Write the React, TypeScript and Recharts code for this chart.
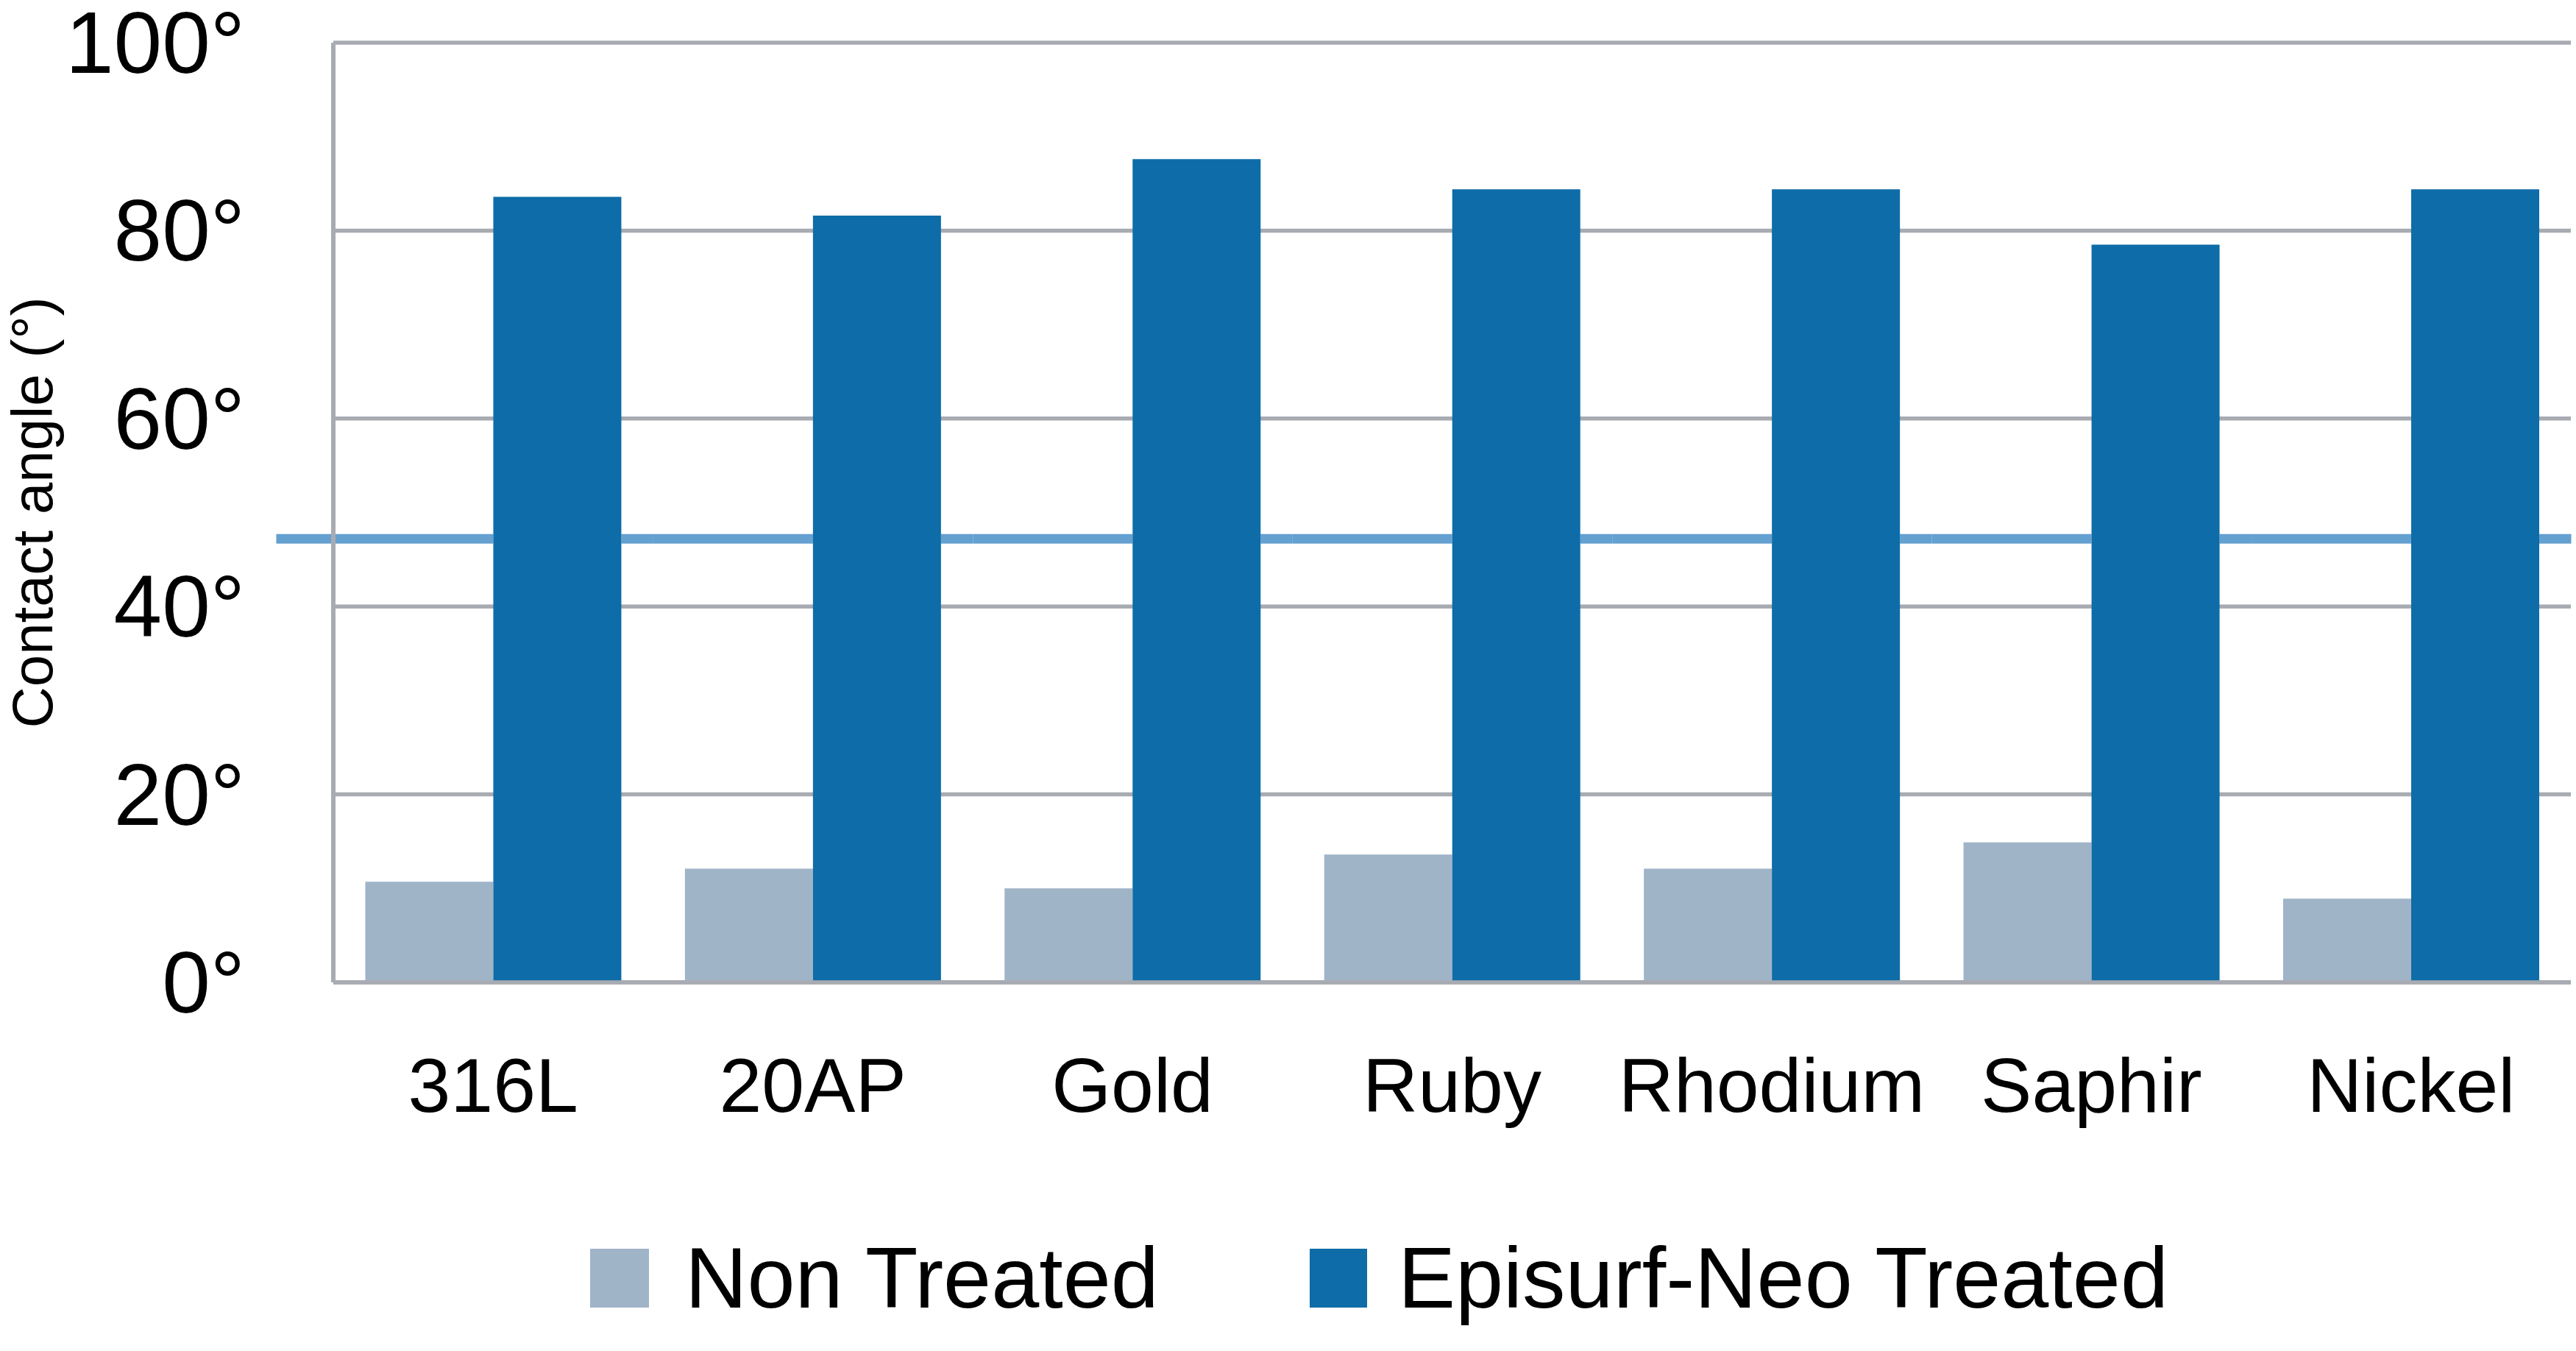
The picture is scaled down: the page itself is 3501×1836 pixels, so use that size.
import { Bar, BarChart, CartesianGrid, Label, Legend, XAxis, YAxis } from "recharts"

// ── Data ──────────────────────────────────────────────────────────
const materials = ["316L", "20AP", "Gold", "Ruby", "Rhodium", "Saphir", "Nickel"]
const nonTreated = [10.7, 12.1, 10.0, 13.6, 12.1, 14.9, 8.9]
const neoTreated = [83.6, 81.6, 87.6, 84.4, 84.4, 78.5, 84.4]
const angleTicks = [0, 20, 40, 60, 80, 100]
const angleDomain = [0, 100]
const thresholdAngle = 47.2

const GREY = "#a0b4c8"
const BLUE = "#0e6ca8"
const LINE = "#64a0d0"
const GRID = "#a8abb2"
const FONT = "'Liberation Sans', Arial, Helvetica, sans-serif"

const W = 3501
const H = 1836

const data = materials.map((name, i) => ({
    name,
    nonTreated: nonTreated[i],
    neoTreated: neoTreated[i],
}))

const YTick = ({ x, y, payload }: any) => (
    <text x={x - 118} y={y} textAnchor="end" dominantBaseline="central"
        fontFamily={FONT} fontSize={118} fill="#000">
        {`${payload.value}°`}
    </text>
)

const XTick = ({ x, y, payload }: any) => (
    <text x={x} y={y + 176} textAnchor="middle"
        fontFamily={FONT} fontSize={104} fill="#000">
        {payload.value}
    </text>
)

const LegendBox = () => (
    <div style={{ position: "relative", width: W, height: 130, fontFamily: FONT, fontSize: 117, color: "#000" }}>
        <div style={{ position: "absolute", left: 802, top: 25, width: 80, height: 80, background: GREY }} />
        <span style={{ position: "absolute", left: 931, top: 0, lineHeight: "130px", whiteSpace: "nowrap" }}>Non Treated</span>
        <div style={{ position: "absolute", left: 1780, top: 25, width: 78, height: 80, background: BLUE }} />
        <span style={{ position: "absolute", left: 1900, top: 0, lineHeight: "130px", whiteSpace: "nowrap" }}>Episurf-Neo Treated</span>
    </div>
)

const AxisLabel = ({ viewBox }: any) => {
    const cx = viewBox.x + 44
    const cy = viewBox.y + viewBox.height / 2
    return (
        <text x={cx} y={cy} transform={`rotate(-90 ${cx} ${cy})`}
            textAnchor="middle" dominantBaseline="central"
            fontFamily={FONT} fontSize={78} fill="#000">
            Contact angle (°)
        </text>
    )
}

// Threshold line, drawn from the grey series' background. It skips the
// blue bar of each category (the blue bars hide it in the original);
// the first piece also runs a little past the y axis.
const ThresholdPiece = (p: any) => {
    const { x, y, width, height, index } = p
    const [lo, hi] = angleDomain
    const ly = y + height * (1 - (thresholdAngle - lo) / (hi - lo))
    const gap = width * 0.247
    const start = x - gap - (index === 0 ? 78 : 0)
    const end = x - gap + width * 2.497
    return (
        <g>
            <line x1={start} y1={ly} x2={x + width} y2={ly} stroke={LINE} strokeWidth={13} />
            <line x1={x + 2 * width} y1={ly} x2={end} y2={ly} stroke={LINE} strokeWidth={13} />
        </g>
    )
}

export default function App() {
    return (
        <div style={{ position: "absolute", left: 0, top: 0, width: W, height: H, background: "#fff" }}>
            <BarChart
                width={W}
                height={H}
                data={data}
                margin={{ top: 58, right: 7, left: 0, bottom: 34 }}
                barCategoryGap="10%"
                barGap={0}
            >
                <CartesianGrid vertical={false} stroke={GRID} strokeWidth={5.5} />
                <XAxis
                    dataKey="name"
                    height={337}
                    tickLine={false}
                    tickSize={0}
                    tickMargin={0}
                    axisLine={{ stroke: GRID, strokeWidth: 5.5 }}
                    tick={<XTick />}
                    interval={0}
                />
                <YAxis
                    width={453}
                    domain={angleDomain}
                    ticks={angleTicks}
                    tickLine={false}
                    tickSize={0}
                    axisLine={{ stroke: GRID, strokeWidth: 6 }}
                    tick={<YTick />}
                >
                    <Label content={<AxisLabel />} />
                </YAxis>
                <Bar
                    dataKey="nonTreated"
                    name="Non Treated"
                    fill={GREY}
                    background={<ThresholdPiece />}
                    isAnimationActive={false}
                />
                <Bar dataKey="neoTreated" name="Episurf-Neo Treated" fill={BLUE} isAnimationActive={false} />
                <Legend
                    verticalAlign="bottom"
                    align="left"
                    height={130}
                    wrapperStyle={{ left: 0, bottom: 34, width: W }}
                    content={() => <LegendBox />}
                />
            </BarChart>
        </div>
    )
}
